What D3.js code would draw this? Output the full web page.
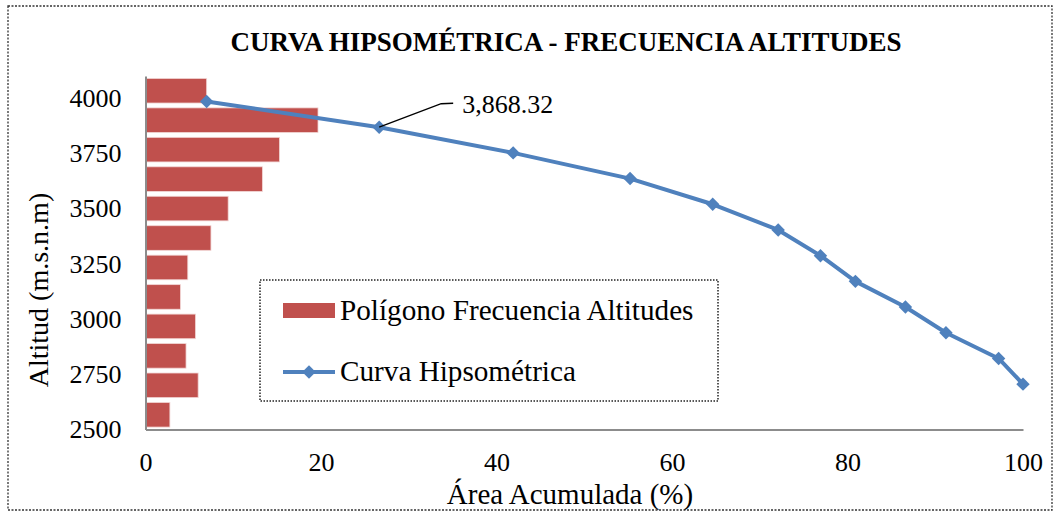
<!DOCTYPE html>
<html>
<head>
<meta charset="utf-8">
<script src="https://cdn.jsdelivr.net/npm/d3@7"></script>
<style>
  body { margin: 0; background: #fff; }
  svg { display: block; font-family: "Liberation Serif", "Times New Roman", serif; }
</style>
</head>
<body>
<svg id="chart"></svg>
<script>
// altitude classes (top to bottom) and their share of the area (%)
const classes = ["3985-4101", "3868-3985", "3752-3868", "3636-3752", "3519-3636", "3403-3519",
                 "3287-3403", "3171-3287", "3054-3171", "2938-3054", "2822-2938", "2705-2822"];
const frequency = [6.97, 19.66, 15.27, 13.32, 9.42, 7.46, 4.82, 3.98, 5.70, 4.62, 6.00, 2.78];

// hypsometric curve: cumulative area (%) vs altitude
const areaAcum = [6.97, 26.63, 41.9, 55.22, 64.64, 72.1, 76.92, 80.9, 86.6, 91.22, 97.22, 100];
const altitude = [3984.6, 3868.32, 3752.0, 3635.7, 3519.4, 3403.1, 3286.8, 3170.5, 3054.2, 2937.9, 2821.6, 2705.3];

const xTicks = [0, 20, 40, 60, 80, 100];
const yTicks = [2500, 2750, 3000, 3250, 3500, 3750, 4000];
const labelIndex = 1; // point with data label

const w = 1056, h = 513;
const plotLeft = 145.5, plotRight = 1023, plotTop = 76, plotBottom = 429.5;
const barColor = "#C0504D", lineColor = "#4F81BD", axisColor = "#8c8c8c";

const svg = d3.select("#chart").attr("width", w).attr("height", h);

const x = d3.scaleLinear().domain([0, 100]).range([plotLeft, plotRight]);
const y = d3.scaleLinear().domain([2500, 4100]).range([plotBottom, plotTop]);
const yBand = d3.scaleBand().domain(classes).range([plotTop, plotBottom])
  .paddingInner(0.165).paddingOuter(0.0825);

// outer dotted frame
svg.append("rect")
  .attr("x", 8).attr("y", 6).attr("width", w - 12).attr("height", h - 9)
  .attr("fill", "none").attr("stroke", "#333").attr("stroke-width", 1.3)
  .attr("stroke-dasharray", "2,1.5");

// title
svg.append("text")
  .attr("x", 566).attr("y", 51)
  .attr("text-anchor", "middle")
  .attr("font-weight", "bold").attr("font-size", 27)
  .text("CURVA HIPSOMÉTRICA - FRECUENCIA ALTITUDES");

// bars
svg.selectAll("rect.bar")
  .data(classes)
  .enter()
  .append("rect")
  .attr("class", "bar")
  .attr("x", x(0))
  .attr("y", d => yBand(d))
  .attr("width", (d, i) => x(frequency[i]) - x(0))
  .attr("height", yBand.bandwidth())
  .attr("fill", barColor)
  .attr("stroke", "#f2d6d5").attr("stroke-width", 0.8);

// axes
const xAxis = d3.axisBottom(x).tickValues(xTicks).tickSize(0).tickPadding(23);
const yAxis = d3.axisLeft(y).tickValues(yTicks).tickFormat(d3.format("d"))
  .tickSize(0).tickPadding(24);

svg.append("g")
  .attr("transform", "translate(0," + plotBottom + ")")
  .call(xAxis)
  .call(g => g.select(".domain").attr("stroke", axisColor).attr("stroke-width", 2))
  .call(g => g.selectAll("text").attr("font-size", 26).attr("fill", "#000")
    .attr("font-family", "Liberation Serif, serif"));

svg.append("g")
  .attr("transform", "translate(" + plotLeft + ",0)")
  .call(yAxis)
  .call(g => g.select(".domain").attr("stroke", axisColor).attr("stroke-width", 2))
  .call(g => g.selectAll("text").attr("font-size", 26).attr("fill", "#000")
    .attr("font-family", "Liberation Serif, serif"));

// axis titles
svg.append("text")
  .attr("x", 570).attr("y", 504)
  .attr("text-anchor", "middle").attr("font-size", 29)
  .text("Área Acumulada (%)");

svg.append("text")
  .attr("transform", "translate(48,290) rotate(-90)")
  .attr("text-anchor", "middle").attr("font-size", 28)
  .text("Altitud (m.s.n.m)");

// curve
const pts = areaAcum.map((a, i) => [a, altitude[i]]);
const line = d3.line().x(d => x(d[0])).y(d => y(d[1]));

svg.append("path")
  .datum(pts)
  .attr("fill", "none")
  .attr("stroke", lineColor)
  .attr("stroke-width", 4)
  .attr("stroke-linejoin", "round")
  .attr("d", line);

const diamond = d3.symbol().type(d3.symbolDiamond2).size(115);
svg.selectAll("path.marker")
  .data(pts)
  .enter()
  .append("path")
  .attr("class", "marker")
  .attr("d", diamond)
  .attr("transform", d => "translate(" + x(d[0]) + "," + y(d[1]) + ")")
  .attr("fill", lineColor);

// data label with leader line
const lp = pts[labelIndex];
const lx = x(lp[0]), ly = y(lp[1]);
svg.append("path")
  .attr("d", "M" + lx + "," + ly + "L" + (lx + 62) + "," + (ly - 23.5) + "L" + (lx + 74) + "," + (ly - 24))
  .attr("fill", "none").attr("stroke", "#000").attr("stroke-width", 1.4);
svg.append("text")
  .attr("x", lx + 83).attr("y", ly - 14)
  .attr("font-size", 26)
  .text(d3.format(",.2f")(lp[1]));

// legend
const legend = svg.append("g");
legend.append("rect")
  .attr("x", 260).attr("y", 280).attr("width", 458).attr("height", 121)
  .attr("fill", "#fff").attr("stroke", "#222").attr("stroke-width", 1.5)
  .attr("stroke-dasharray", "1.5,1.5");
legend.append("rect")
  .attr("x", 283).attr("y", 303).attr("width", 52).attr("height", 15)
  .attr("fill", barColor);
legend.append("text")
  .attr("x", 340).attr("y", 320).attr("font-size", 29.2)
  .text("Polígono Frecuencia Altitudes");
legend.append("line")
  .attr("x1", 283).attr("x2", 335).attr("y1", 372).attr("y2", 372)
  .attr("stroke", lineColor).attr("stroke-width", 4);
legend.append("path")
  .attr("d", diamond)
  .attr("transform", "translate(309,372)")
  .attr("fill", lineColor);
legend.append("text")
  .attr("x", 340).attr("y", 381).attr("font-size", 29.2)
  .text("Curva Hipsométrica");
</script>
</body>
</html>
